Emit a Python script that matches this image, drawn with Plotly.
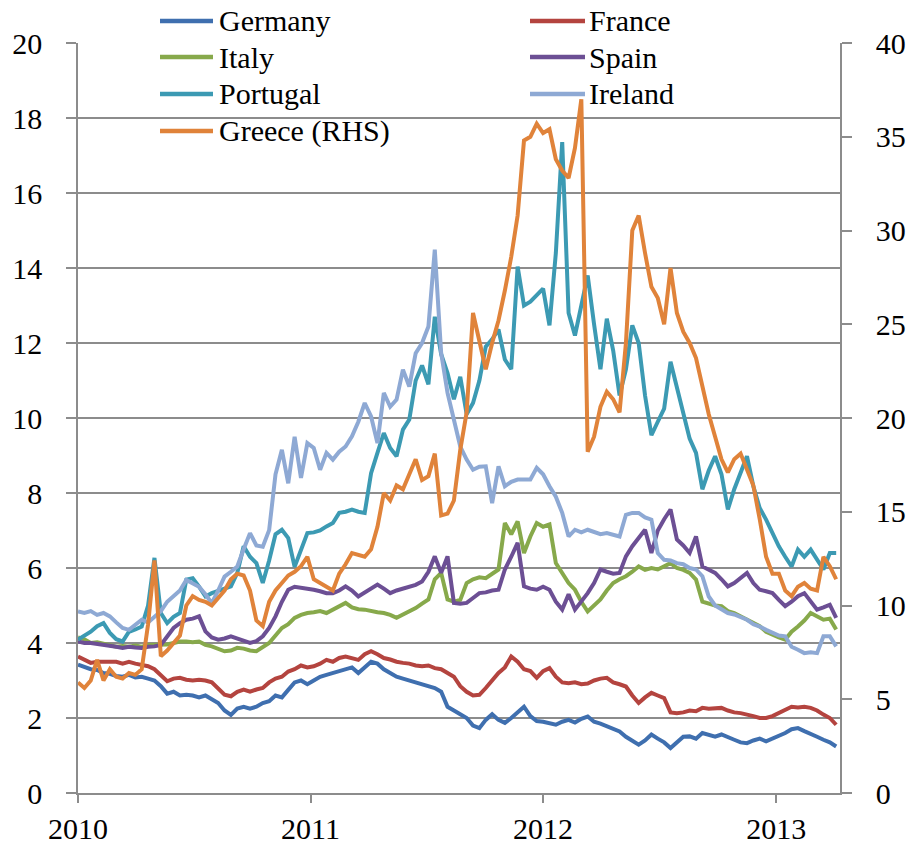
import pandas as pd
import plotly.graph_objects as go

# ---------------- data (10-day sampling, Jan 2010 - Apr 2013) ----------------
dates = pd.date_range("2010-01-01", periods=120, freq="10D")

germany = [3.42, 3.35, 3.30, 3.28, 3.20, 3.18, 3.12, 3.10, 3.15, 3.08,
           3.10, 3.05, 3.00, 2.85, 2.65, 2.70, 2.60, 2.62, 2.60, 2.55,
           2.60, 2.50, 2.40, 2.20, 2.08, 2.25, 2.30, 2.25, 2.30, 2.40,
           2.45, 2.60, 2.55, 2.75, 2.95, 3.00, 2.90, 3.00, 3.10, 3.15,
           3.20, 3.25, 3.30, 3.35, 3.20, 3.35, 3.50, 3.45, 3.30, 3.20,
           3.10, 3.05, 3.00, 2.95, 2.90, 2.85, 2.80, 2.70, 2.30, 2.20,
           2.10, 2.00, 1.80, 1.73, 1.95, 2.10, 1.95, 1.87, 2.00, 2.15,
           2.30, 2.05, 1.92, 1.90, 1.85, 1.82, 1.90, 1.95, 1.88, 1.98,
           2.04, 1.90, 1.85, 1.78, 1.70, 1.64, 1.50, 1.40, 1.29, 1.40,
           1.56, 1.45, 1.35, 1.20, 1.35, 1.50, 1.51, 1.45, 1.60, 1.55,
           1.50, 1.56, 1.50, 1.42, 1.35, 1.33, 1.40, 1.45, 1.38, 1.45,
           1.51, 1.60, 1.70, 1.73, 1.65, 1.56, 1.50, 1.42, 1.35, 1.24]

france = [3.64, 3.55, 3.47, 3.50, 3.50, 3.48, 3.50, 3.45, 3.50, 3.45,
          3.42, 3.38, 3.30, 3.15, 2.98, 3.05, 3.07, 3.02, 3.00, 3.02,
          3.00, 2.95, 2.80, 2.62, 2.58, 2.70, 2.76, 2.70, 2.76, 2.80,
          2.95, 3.05, 3.10, 3.24, 3.30, 3.40, 3.35, 3.38, 3.45, 3.55,
          3.50, 3.60, 3.64, 3.60, 3.55, 3.70, 3.78, 3.70, 3.60, 3.56,
          3.50, 3.47, 3.45, 3.40, 3.38, 3.40, 3.33, 3.30, 3.20, 3.10,
          2.85, 2.70, 2.60, 2.62, 2.80, 3.00, 3.20, 3.35, 3.64, 3.50,
          3.30, 3.25, 3.07, 3.25, 3.33, 3.10, 2.95, 2.93, 2.95, 2.90,
          2.92, 3.00, 3.05, 3.07, 2.95, 2.90, 2.84, 2.60, 2.40, 2.55,
          2.67, 2.60, 2.53, 2.15, 2.13, 2.15, 2.20, 2.18, 2.27, 2.25,
          2.25, 2.27, 2.20, 2.15, 2.13, 2.10, 2.05, 2.00, 2.00, 2.05,
          2.13, 2.20, 2.30, 2.28, 2.30, 2.27, 2.20, 2.09, 2.00, 1.82]

italy = [4.15, 4.10, 4.00, 4.02, 3.98, 3.95, 3.90, 3.92, 3.90, 3.93,
         3.90, 3.95, 3.95, 3.96, 3.96, 4.00, 4.04, 4.04, 4.02, 4.04,
         3.95, 3.91, 3.85, 3.78, 3.80, 3.87, 3.85, 3.80, 3.78, 3.90,
         4.00, 4.20, 4.40, 4.50, 4.67, 4.75, 4.80, 4.82, 4.85, 4.80,
         4.89, 4.95, 5.07, 4.95, 4.90, 4.89, 4.85, 4.82, 4.80, 4.75,
         4.67, 4.75, 4.85, 4.93, 5.05, 5.16, 5.70, 5.87, 5.16, 5.10,
         5.15, 5.60, 5.70, 5.75, 5.73, 5.85, 5.96, 7.20, 6.90, 7.24,
         6.40, 6.84, 7.20, 7.10, 7.16, 6.13, 5.87, 5.60, 5.42, 5.10,
         4.84, 5.00, 5.16, 5.40, 5.60, 5.70, 5.78, 5.90, 6.04, 5.95,
         6.00, 5.96, 6.05, 6.13, 6.00, 5.95, 5.87, 5.69, 5.10, 5.05,
         5.00, 4.98, 4.85, 4.80, 4.71, 4.65, 4.55, 4.45, 4.30, 4.22,
         4.15, 4.09, 4.30, 4.44, 4.60, 4.80, 4.70, 4.62, 4.65, 4.36]

spain = [4.04, 4.00, 4.00, 3.98, 3.96, 3.92, 3.90, 3.87, 3.90, 3.88,
         3.87, 3.90, 3.91, 3.95, 4.18, 4.40, 4.53, 4.62, 4.65, 4.71,
         4.31, 4.15, 4.09, 4.12, 4.18, 4.12, 4.05, 4.00, 4.05, 4.18,
         4.40, 4.71, 5.10, 5.42, 5.50, 5.48, 5.45, 5.42, 5.38, 5.33,
         5.33, 5.40, 5.51, 5.40, 5.24, 5.35, 5.45, 5.56, 5.45, 5.33,
         5.40, 5.45, 5.51, 5.55, 5.64, 5.90, 6.31, 5.87, 6.31, 5.07,
         5.05, 5.07, 5.20, 5.33, 5.35, 5.40, 5.42, 5.96, 6.30, 6.67,
         5.51, 5.45, 5.42, 5.50, 5.42, 5.10, 4.89, 5.30, 4.89, 5.10,
         5.33, 5.60, 5.96, 5.90, 5.85, 5.87, 6.31, 6.58, 6.80, 7.02,
         6.40, 7.00, 7.30, 7.56, 6.76, 6.60, 6.40, 6.84, 6.04, 5.95,
         5.87, 5.70, 5.51, 5.60, 5.75, 5.87, 5.60, 5.42, 5.38, 5.33,
         5.15, 4.98, 5.10, 5.25, 5.33, 5.10, 4.89, 4.95, 5.02, 4.67]

portugal = [4.09, 4.18, 4.30, 4.45, 4.53, 4.27, 4.10, 4.04, 4.30, 4.36,
            4.44, 5.00, 6.27, 4.80, 4.53, 4.70, 4.80, 5.69, 5.73, 5.50,
            5.24, 5.33, 5.40, 5.45, 5.51, 5.87, 6.58, 6.30, 6.13, 5.60,
            6.20, 6.90, 7.02, 6.80, 6.03, 6.50, 6.93, 6.95, 7.00, 7.11,
            7.20, 7.47, 7.50, 7.56, 7.50, 7.47, 8.53, 9.07, 9.60, 9.20,
            8.98, 9.69, 9.96, 11.00, 11.40, 10.90, 12.70, 11.70, 11.20, 10.50,
            11.10, 10.10, 10.40, 11.00, 11.90, 12.10, 12.36, 11.56, 11.30, 14.04,
            13.00, 13.10, 13.27, 13.45, 12.47, 14.40, 17.36, 12.80, 12.20, 13.00,
            13.80, 12.50, 11.30, 12.65, 11.80, 10.60, 11.30, 12.47, 12.00, 10.60,
            9.54, 9.90, 10.25, 11.50, 10.80, 10.07, 9.45, 9.07, 8.10, 8.60,
            8.98, 8.50, 7.56, 8.10, 8.53, 8.98, 8.18, 7.60, 7.29, 6.93,
            6.58, 6.30, 6.04, 6.49, 6.30, 6.49, 6.20, 5.96, 6.40, 6.40]

ireland = [4.84, 4.80, 4.85, 4.75, 4.80, 4.71, 4.55, 4.40, 4.35, 4.50,
           4.62, 4.55, 4.70, 4.85, 5.10, 5.24, 5.40, 5.68, 5.60, 5.50,
           5.30, 5.06, 5.40, 5.77, 5.90, 6.04, 6.50, 6.93, 6.60, 6.57,
           7.01, 8.50, 9.15, 8.26, 9.50, 8.40, 9.33, 9.20, 8.62, 9.07,
           8.89, 9.10, 9.24, 9.51, 9.90, 10.40, 10.04, 9.33, 10.67, 10.30,
           10.49, 11.29, 10.84, 11.73, 12.00, 12.44, 14.49, 11.73, 10.67, 9.96,
           9.24, 8.89, 8.62, 8.70, 8.71, 7.73, 8.71, 8.18, 8.30, 8.36,
           8.36, 8.36, 8.67, 8.50, 8.18, 7.90, 7.47, 6.84, 7.02, 6.95,
           7.02, 6.95, 6.90, 6.93, 6.88, 6.84, 7.42, 7.47, 7.47, 7.35,
           7.29, 6.40, 6.22, 6.20, 6.13, 6.10, 6.00, 5.96, 5.78, 5.24,
           5.00, 4.89, 4.80, 4.76, 4.70, 4.62, 4.50, 4.44, 4.35, 4.27,
           4.20, 4.18, 3.90, 3.82, 3.73, 3.75, 3.73, 4.18, 4.18, 3.91]

greece_rhs = [5.9, 5.6, 6.0, 7.1, 6.0, 6.6, 6.2, 6.1, 6.4, 6.3,
              6.6, 9.0, 12.4, 7.3, 7.6, 8.0, 8.4, 10.0, 10.5, 10.3,
              10.2, 10.0, 10.4, 10.8, 11.4, 11.7, 11.6, 10.8, 9.2, 8.9,
              10.2, 10.8, 11.2, 11.6, 11.8, 12.1, 12.6, 11.4, 11.2, 11.0,
              10.8, 11.7, 12.2, 12.8, 12.7, 12.6, 13.0, 14.2, 16.0, 15.6,
              16.4, 16.2, 17.0, 17.8, 16.7, 16.9, 18.1, 14.8, 14.9, 15.6,
              18.3, 20.3, 25.6, 24.0, 22.6, 24.0, 25.2, 26.8, 28.6, 30.8,
              34.8, 35.0, 35.7, 35.2, 35.4, 33.8, 33.2, 32.8, 34.4, 37.0,
              18.2, 19.0, 20.6, 21.4, 21.0, 20.3, 24.0, 30.0, 30.8, 28.8,
              27.0, 26.4, 25.0, 28.0, 25.6, 24.6, 24.0, 23.2, 21.6, 20.2,
              19.0, 17.8, 17.1, 17.8, 18.1, 17.2, 16.4, 14.6, 12.6, 11.7,
              11.7, 10.8, 10.5, 11.0, 11.2, 10.9, 10.8, 12.6, 12.1, 11.4]

left_ticks = list(range(0, 21, 2))
right_ticks = list(range(0, 41, 5))
year_ticks = ["2010-01-01", "2011-01-01", "2012-01-01", "2013-01-01"]
year_labels = ["2010", "2011", "2012", "2013"]

# ---------------- styling ----------------
W, H = 914, 844
PL, PR, PT, PB = 78, 840, 43, 793          # plot-area edges in page pixels
ML, MR, MT, MB = PL, W - PR, PT, H - PB
FONT = "Liberation Serif, Times New Roman, serif"
GRID = "#8c8c8c"

series = [
    ("Germany", germany, "#3f6faf", "y"),
    ("France", france, "#b4443f", "y"),
    ("Italy", italy, "#87a94b", "y"),
    ("Spain", spain, "#6c4f94", "y"),
    ("Portugal", portugal, "#3c9ab3", "y"),
    ("Ireland", ireland, "#8ea9d4", "y"),
    ("Greece (RHS)", greece_rhs, "#e0833a", "y2"),
]

fig = go.Figure()
for name, vals, col, ax in series:
    fig.add_trace(go.Scatter(x=dates, y=vals, name=name, mode="lines",
                             line=dict(color=col, width=4),
                             yaxis=ax, showlegend=False))

# manual legend (two columns, as in the reference), positions in page pixels
pw, ph = PR - PL, PB - PT
def px(x):
    return (x - PL) / pw
def py(y):
    return (PB - y) / ph

legend_slots = [("Germany", 0, 0), ("France", 1, 0), ("Italy", 0, 1), ("Spain", 1, 1),
                ("Portugal", 0, 2), ("Ireland", 1, 2), ("Greece (RHS)", 0, 3)]
colmap = {n: c for n, _, c, _ in series}
col_x = [(160, 213, 217), (530, 585, 587)]
row_y = [21, 57, 94, 131]
shapes, annots = [], []
for name, c, r in legend_slots:
    x0, x1, xt = col_x[c]
    yy = row_y[r]
    shapes.append(dict(type="line", xref="paper", yref="paper",
                       x0=px(x0), x1=px(x1), y0=py(yy), y1=py(yy),
                       line=dict(color=colmap[name], width=4.5)))
    annots.append(dict(text=name, xref="paper", yref="paper", x=px(xt), y=py(yy),
                       xanchor="left", yanchor="middle", showarrow=False,
                       font=dict(family=FONT, size=30, color="#000000")))

axfont = dict(family=FONT, size=30, color="#000000")
common = dict(zeroline=False, showline=True, linecolor=GRID, linewidth=1.5,
              ticks="outside", tickcolor=GRID, tickwidth=1.5,
              tickfont=axfont, automargin=False)
fig.update_layout(
    width=W, height=H,
    margin=dict(l=ML, r=MR, t=MT, b=MB, pad=0, autoexpand=False),
    paper_bgcolor="white", plot_bgcolor="white",
    font=dict(family=FONT),
    shapes=shapes, annotations=annots,
    xaxis=dict(type="date", range=["2010-01-01", "2013-04-11"],
               tickvals=year_ticks, ticktext=year_labels,
               showgrid=False, ticklen=8, ticklabelstandoff=0, **common),
    yaxis=dict(range=[0, 20], tickvals=left_ticks,
               showgrid=True, gridcolor=GRID, gridwidth=1.5,
               ticklen=10, ticklabelstandoff=18, **common),
    yaxis2=dict(range=[0, 40], tickvals=right_ticks, overlaying="y", side="right",
                anchor="x", showgrid=False,
                ticklen=10, ticklabelstandoff=18, **common),
)

# remove the browser's default 8px body margin so the figure fills the window
fig.write_html("out.html",
               config={"displayModeBar": False},
               post_script="document.body.style.margin='0';document.body.style.padding='0';")
